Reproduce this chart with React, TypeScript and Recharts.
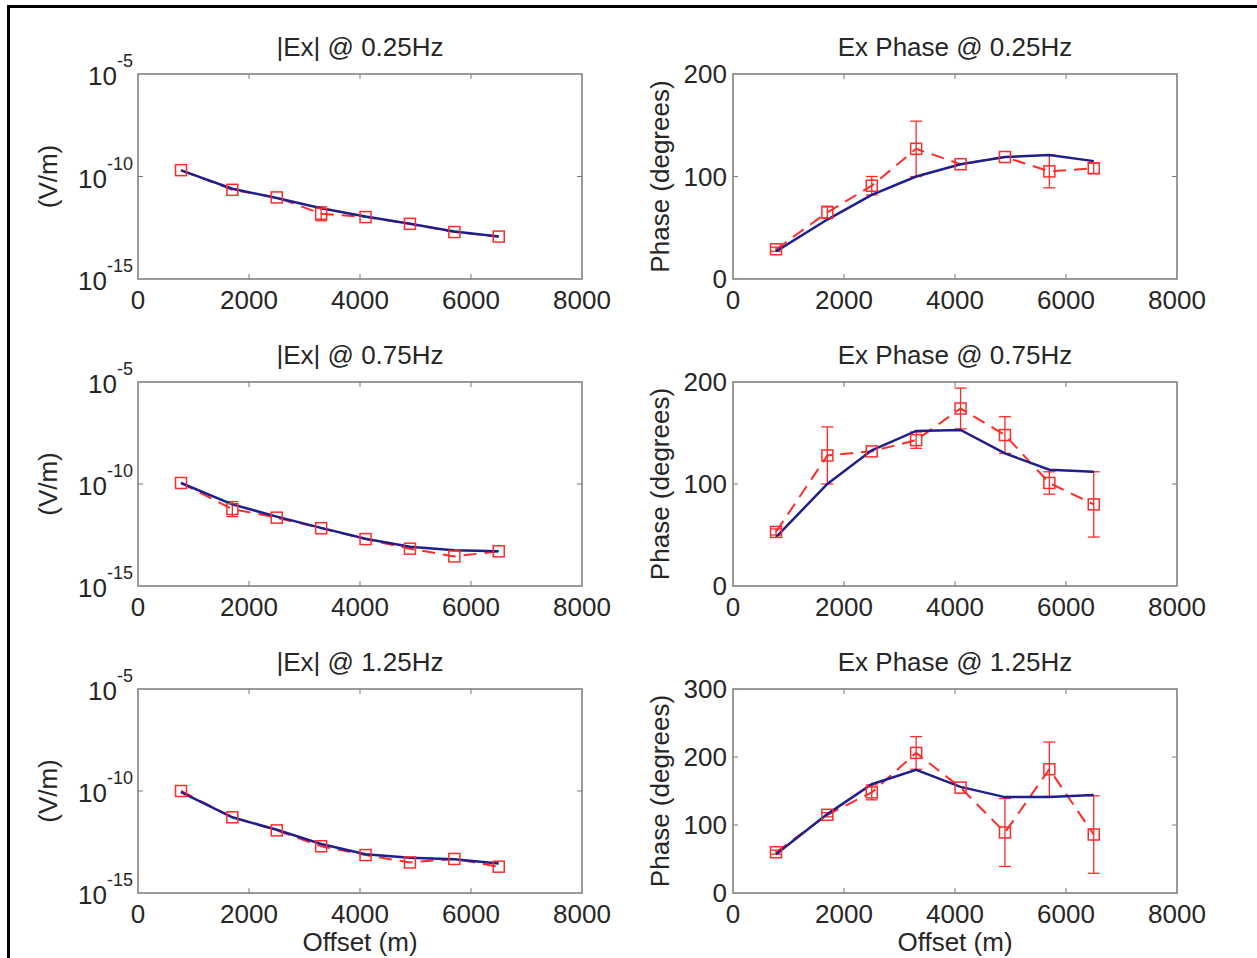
import React from 'react';
import { LineChart, Line, XAxis, YAxis, ErrorBar, ReferenceArea } from 'recharts';

// shared x positions (receiver offsets, m)
const offsets = [775, 1700, 2500, 3300, 4100, 4900, 5700, 6500];
const xTicks = [0, 2000, 4000, 6000, 8000];
const logTicks = [-15, -10, -5];

// amplitudes as log10(V/m)
const obsAmp025 = [-9.69, -10.65, -11.02, -11.82, -11.98, -12.31, -12.71, -12.93];
const errAmp025 = [0, 0, 0, 0.34, 0, 0, 0, 0];
const modAmp025 = [-9.7, -10.6, -11.05, -11.55, -11.95, -12.3, -12.68, -12.93];

const obsAmp075 = [-9.95, -11.23, -11.65, -12.17, -12.7, -13.17, -13.55, -13.3];
const errAmp075 = [0, 0.37, 0, 0, 0, 0, 0, 0];
const modAmp075 = [-9.95, -11.0, -11.6, -12.15, -12.68, -13.08, -13.25, -13.3];

const obsAmp125 = [-10.0, -11.29, -11.93, -12.71, -13.14, -13.5, -13.33, -13.71];
const errAmp125 = [0, 0, 0, 0, 0, 0, 0, 0];
const modAmp125 = [-10.05, -11.29, -11.9, -12.6, -13.1, -13.27, -13.35, -13.55];

// phases in degrees
const obsPh025 = [29, 65, 91, 127, 112, 119, 105, 108];
const errPh025 = [2, 6, 9, 27, 0, 0, 16, 5];
const modPh025 = [27, 58, 82, 100, 112, 119, 121, 115];

const obsPh075 = [53, 128, 132, 143, 174, 148, 101, 80];
const errPh075 = [3, 28, 0, 8, 20, 18, 11, 32];
const modPh075 = [48, 100, 133, 152, 153, 130, 114, 112];

const obsPh125 = [60, 115, 148, 206, 155, 89, 182, 86];
const errPh125 = [3, 3, 11, 24, 0, 50, 40, 57];
const modPh125 = [57, 116, 160, 181, 156, 141, 141, 144];

const FONT = '"Liberation Sans", Arial, Helvetica, sans-serif';
const TXT = '#262626';
const RED = '#ff2b2b';
const BLUE = '#1f1f8c';
const BOX = '#7a7a7a';

const colLeft = [138, 733];
const rowTop = [74, 382, 689];
const rowH = [205, 204, 204];
const PLOT_W = 444;
const Y_W = 120;
const MT = 30;
const MR = 60;
const XH = 50;

const buildRows = (obs: number[], err: number[], mod: number[]) =>
  offsets.map((x, i) => ({ x, obs: obs[i], err: err[i], mod: mod[i] }));

const panels = [
  { title: '|Ex| @ 0.25Hz', log: true, col: 0, row: 0, data: buildRows(obsAmp025, errAmp025, modAmp025) },
  { title: 'Ex Phase @ 0.25Hz', log: false, col: 1, row: 0, max: 200, data: buildRows(obsPh025, errPh025, modPh025) },
  { title: '|Ex| @ 0.75Hz', log: true, col: 0, row: 1, data: buildRows(obsAmp075, errAmp075, modAmp075) },
  { title: 'Ex Phase @ 0.75Hz', log: false, col: 1, row: 1, max: 200, data: buildRows(obsPh075, errPh075, modPh075) },
  { title: '|Ex| @ 1.25Hz', log: true, col: 0, row: 2, data: buildRows(obsAmp125, errAmp125, modAmp125) },
  { title: 'Ex Phase @ 1.25Hz', log: false, col: 1, row: 2, max: 300, data: buildRows(obsPh125, errPh125, modPh125) },
];

const makeXTick = (plotH: number) => (p: any) => {
  const { x, y, payload } = p;
  const inner = payload.value !== 0 && payload.value !== 8000;
  return (
    <g key={`xt${payload.value}`}>
      {inner && <line x1={x} x2={x} y1={y} y2={y - 5} stroke={BOX} />}
      {inner && <line x1={x} x2={x} y1={y - plotH} y2={y - plotH + 5} stroke={BOX} />}
      <text x={x} y={y + 30} textAnchor="middle" fontSize={26} fontFamily={FONT} fill={TXT}>
        {payload.value}
      </text>
    </g>
  );
};

const makeYTick = (log: boolean, ends: number[]) => (p: any) => {
  const { x, y, payload } = p;
  const inner = !ends.includes(payload.value);
  return (
    <g key={`yt${payload.value}`}>
      {inner && <line x1={x} x2={x + 5} y1={y} y2={y} stroke={BOX} />}
      {inner && <line x1={x + PLOT_W} x2={x + PLOT_W - 5} y1={y} y2={y} stroke={BOX} />}
      {log ? (
        <text x={x - 5} y={y + 11} textAnchor="end" fontFamily={FONT} fill={TXT}>
          <tspan fontSize={26}>10</tspan>
          <tspan fontSize={18} dy={-18}>{String(payload.value)}</tspan>
        </text>
      ) : (
        <text x={x - 6} y={y + 9} textAnchor="end" fontSize={26} fontFamily={FONT} fill={TXT}>
          {payload.value}
        </text>
      )}
    </g>
  );
};

const squareDot = (p: any) => {
  if (p.cx == null || p.cy == null) return <g key={`d${p.index}`} />;
  return (
    <rect
      key={`d${p.index}`}
      x={p.cx - 5.5}
      y={p.cy - 5.5}
      width={11}
      height={11}
      fill="none"
      stroke={RED}
      strokeWidth={1.5}
    />
  );
};

function Panel({ panel }: { panel: any }) {
  const plotH = rowH[panel.row];
  const yDomain = panel.log ? [-15, -5] : [0, panel.max];
  const yTicks = panel.log ? logTicks : panel.max === 300 ? [0, 100, 200, 300] : [0, 100, 200];
  return (
    <div
      style={{
        position: 'absolute',
        left: colLeft[panel.col] - Y_W,
        top: rowTop[panel.row] - MT,
      }}
    >
      <LineChart
        width={Y_W + PLOT_W + MR}
        height={MT + plotH + XH}
        data={panel.data}
        margin={{ top: MT, right: MR, bottom: 0, left: 0 }}
      >
        <XAxis
          dataKey="x"
          type="number"
          domain={[0, 8000]}
          ticks={xTicks}
          interval={0}
          allowDataOverflow
          axisLine={false}
          tickLine={false}
          tickSize={0}
          tickMargin={0}
          height={XH}
          tick={makeXTick(plotH)}
        />
        <YAxis
          type="number"
          domain={yDomain}
          ticks={yTicks}
          interval={0}
          allowDataOverflow
          axisLine={false}
          tickLine={false}
          tickSize={0}
          tickMargin={0}
          width={Y_W}
          tick={makeYTick(panel.log, [yDomain[0], yDomain[1]])}
        />
        <ReferenceArea
          x1={0}
          x2={8000}
          y1={yDomain[0]}
          y2={yDomain[1]}
          fill="none"
          stroke={BOX}
          strokeWidth={1.5}
        />
        <Line
          dataKey="obs"
          type="linear"
          stroke={RED}
          strokeWidth={2}
          strokeDasharray="13 8"
          dot={squareDot}
          activeDot={false}
          isAnimationActive={false}
        >
          <ErrorBar dataKey="err" direction="y" width={6} stroke={RED} strokeWidth={1.3} />
        </Line>
        <Line
          dataKey="mod"
          type="linear"
          stroke={BLUE}
          strokeWidth={2.5}
          dot={false}
          activeDot={false}
          isAnimationActive={false}
        />
      </LineChart>
    </div>
  );
}

export default function App() {
  return (
    <div style={{ position: 'absolute', left: 0, top: 0, width: 1257, height: 958, background: '#fff', overflow: 'hidden' }}>
      {panels.map((p) => (
        <Panel key={p.title} panel={p} />
      ))}
      <svg
        width={1257}
        height={958}
        style={{ position: 'absolute', left: 0, top: 0, pointerEvents: 'none' }}
        fontFamily={FONT}
        fill={TXT}
      >
        <line x1={8.5} y1={5} x2={8.5} y2={958} stroke="#000" strokeWidth={3} />
        <line x1={7} y1={6.5} x2={1257} y2={6.5} stroke="#000" strokeWidth={3} />
        {panels.map((p) => (
          <text
            key={`t${p.title}`}
            x={colLeft[p.col] + PLOT_W / 2}
            y={rowTop[p.row] - 18}
            textAnchor="middle"
            fontSize={26}
          >
            {p.title}
          </text>
        ))}
        {panels.map((p) => {
          const cx = p.col === 0 ? 57 : 669;
          const cy = rowTop[p.row] + rowH[p.row] / 2;
          return (
            <text
              key={`yl${p.title}`}
              x={cx}
              y={cy}
              textAnchor="middle"
              fontSize={26}
              transform={`rotate(-90 ${cx} ${cy})`}
            >
              {p.log ? '(V/m)' : 'Phase (degrees)'}
            </text>
          );
        })}
        <text x={colLeft[0] + PLOT_W / 2} y={951} textAnchor="middle" fontSize={26}>
          Offset (m)
        </text>
        <text x={colLeft[1] + PLOT_W / 2} y={951} textAnchor="middle" fontSize={26}>
          Offset (m)
        </text>
      </svg>
    </div>
  );
}
